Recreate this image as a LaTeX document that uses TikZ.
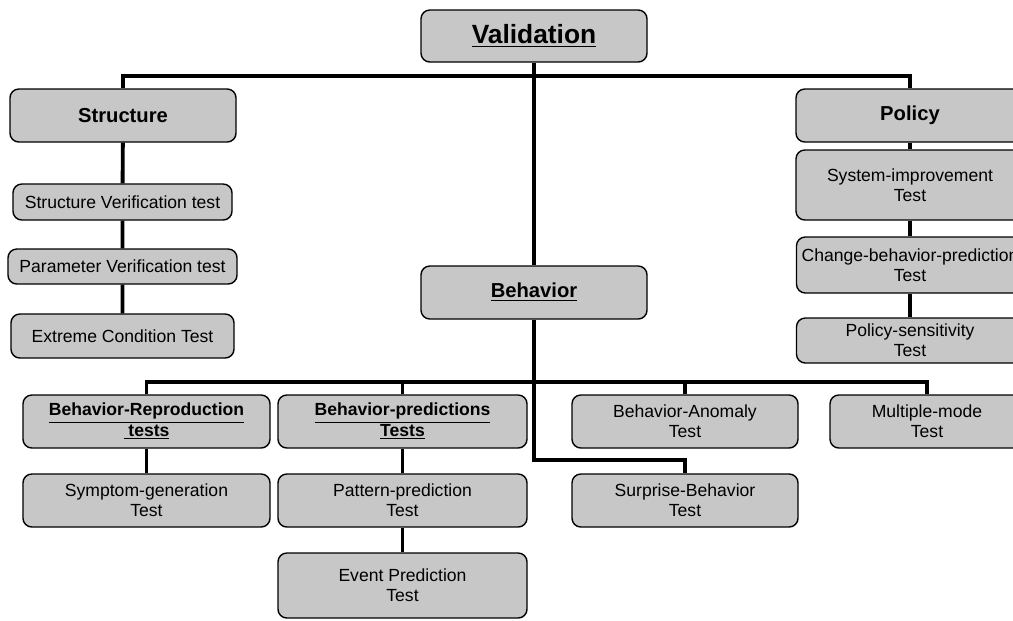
\documentclass[tikz,border=0pt]{standalone}
\usepackage{fontspec}
\setmainfont{Liberation Sans}

\begin{document}
\begin{tikzpicture}[
    box/.style={draw, line width=0.8pt, rounded corners=5pt, fill=black!22,
      align=center, inner sep=0pt, minimum height=1.06cm,
      font=\fontsize{10}{11.5}\selectfont},
    head/.style={box, font=\fontsize{11.5}{14}\selectfont\bfseries},
    link/.style={line width=2.2pt}]
            \clip (0, 0) rectangle (20.26, -12.4);
            % top level
            \node[box, minimum width=4.52cm, minimum height=1.04cm,
              font=\fontsize{15}{18}\selectfont\bfseries] (valid) at (10.68, -0.72) {\underline{Validation}};
            \node[head, minimum width=4.52cm] (struct) at (2.46, -2.31) {Structure};
            \node[head, minimum width=4.56cm] (policy) at (18.2, -2.31) {Policy};
            \node[head, minimum width=4.52cm] (behav) at (10.68, -5.85) {\underline{Behavior}};
            \coordinate (busA) at (10.68, -1.52);
            \coordinate (busB) at (10.68, -7.64);
            \coordinate (bend) at (10.68, -9.2);
            % structure tests
            \node[box, minimum width=4.38cm, minimum height=0.72cm] (sv) at (2.45, -4.04) {Structure Verification test};
            \node[box, minimum width=4.58cm, minimum height=0.7cm] (pv) at (2.45, -5.33) {Parameter Verification test};
            \node[box, minimum width=4.46cm, minimum height=0.88cm] (ec) at (2.45, -6.72) {Extreme Condition Test};
            % policy tests
            \node[box, minimum width=4.56cm, minimum height=1.4cm] (sysimp) at (18.2, -3.7) {System-improvement\\Test};
            \node[box, minimum width=4.54cm, minimum height=1.12cm] (change) at (18.2, -5.3) {Change-behavior-prediction\\Test};
            \node[box, minimum width=4.54cm, minimum height=0.9cm] (polsens) at (18.2, -6.81) {Policy-sensitivity\\Test};
            % behavior tests
            \node[box, minimum width=4.94cm, font=\fontsize{10}{11.5}\selectfont\bfseries] (brep) at (2.93, -8.43) {\underline{Behavior-Reproduction}\\\underline{ tests}};
            \node[box, minimum width=4.98cm, font=\fontsize{10}{11.5}\selectfont\bfseries] (bpred) at (8.05, -8.43) {\underline{Behavior-predictions}\\\underline{Tests}};
            \node[box, minimum width=4.52cm] (anom) at (13.7, -8.43) {Behavior-Anomaly\\Test};
            \node[box, minimum width=3.88cm] (mmode) at (18.54, -8.43) {Multiple-mode\\Test};
            \node[box, minimum width=4.94cm] (symp) at (2.93, -10.01) {Symptom-generation\\Test};
            \node[box, minimum width=4.98cm] (pattern) at (8.05, -10.01) {Pattern-prediction\\Test};
            \node[box, minimum width=4.52cm] (surprise) at (13.7, -10.01) {Surprise-Behavior\\Test};
            \node[box, minimum width=4.98cm, minimum height=1.3cm] (event) at (8.05, -11.71) {Event Prediction\\Test};
            % connectors
            \draw[link] (struct.north) |- (busA) -| (policy.north);
            \draw[link] (valid.south -| busA) -- (behav.north);
            \draw[link] (struct) -- (sv) -- (pv) -- (ec);
            \draw[link] (policy) -- (sysimp) -- (change) -- (polsens);
            \draw[link] (brep.north) |- (busB) -| (mmode.north);
            \draw[link] (behav.south) -- (bend) -| (surprise.north);
            \draw[link] (bpred.north) -- (bpred.north |- busB);
            \draw[link] (anom.north) -- (anom.north |- busB);
            \draw[link] (brep) -- (symp);
            \draw[link] (bpred) -- (pattern) -- (event);
        \end{tikzpicture}
\end{document}
